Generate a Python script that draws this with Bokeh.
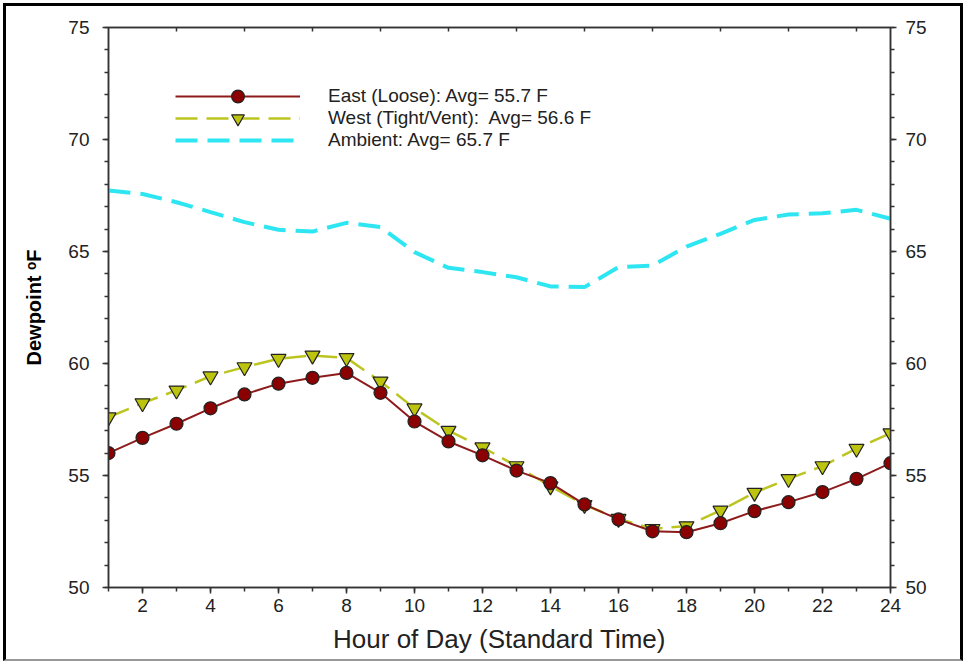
from bokeh.plotting import figure
from bokeh.models import (LinearAxis, SingleIntervalTicker, FixedTicker, Legend, LegendItem,
                          Range1d, Column)
from bokeh.embed import file_html
from bokeh.resources import INLINE

hours = list(range(1, 25))
east = [56.0, 56.68, 57.31, 58.0, 58.62, 59.1, 59.36, 59.58, 58.69, 57.41, 56.52, 55.9,
        55.22, 54.66, 53.71, 53.04, 52.51, 52.47, 52.87, 53.41, 53.81, 54.26, 54.85, 55.55]
west = [57.6, 58.23, 58.8, 59.43, 59.84, 60.21, 60.36, 60.25, 59.2, 58.0, 57.0, 56.26,
        55.42, 54.52, 53.69, 53.07, 52.62, 52.74, 53.44, 54.23, 54.85, 55.42, 56.2, 56.89]
ambient = [67.72, 67.57, 67.2, 66.76, 66.31, 65.97, 65.89, 66.28, 66.09, 64.97, 64.27, 64.08,
           63.85, 63.44, 63.41, 64.3, 64.37, 65.22, 65.79, 66.41, 66.65, 66.71, 66.86, 66.46]
labels = ["East (Loose): Avg= 55.7 F", "West (Tight/Vent):  Avg= 56.6 F", "Ambient: Avg= 65.7 F"]
top_ticks = [3, 5, 7, 9, 11, 13, 15, 17, 19, 21, 23]

FONT = "Liberation Sans"
TXT = "#222222"

p = figure(width=954, height=653, output_backend="svg", toolbar_location=None,
           x_range=Range1d(1, 24), y_range=Range1d(50, 75),
           min_border_left=102, min_border_right=70, min_border_top=21, min_border_bottom=72,
           x_axis_location=None, y_axis_location=None)
p.grid.visible = False
p.outline_line_color = "#333333"
p.outline_line_width = 1.5
p.background_fill_color = "white"
p.border_fill_color = "white"

def style_axis(ax):
    ax.axis_line_color = "#333333"
    ax.axis_line_width = 1.5
    ax.major_tick_line_color = "#333333"
    ax.minor_tick_line_color = "#333333"
    ax.major_tick_line_width = 1.5
    ax.minor_tick_line_width = 1.5
    ax.major_label_text_font = FONT
    ax.major_label_text_font_size = "19px"
    ax.major_label_text_color = TXT
    ax.axis_label_text_font = FONT
    ax.axis_label_text_color = TXT
    ax.axis_label_text_font_style = "normal"

bottom = LinearAxis(ticker=SingleIntervalTicker(interval=2, num_minor_ticks=2),
                    axis_label="Hour of Day (Standard Time)")
style_axis(bottom)
bottom.major_tick_out = 6
bottom.major_tick_in = 0
bottom.minor_tick_out = 4
bottom.minor_tick_in = 0
bottom.major_label_standoff = 5
bottom.axis_label_text_font_size = "26px"
bottom.axis_label_standoff = 9
p.add_layout(bottom, "below")

left = LinearAxis(ticker=SingleIntervalTicker(interval=5, num_minor_ticks=5),
                  axis_label="Dewpoint \u1d52F")
style_axis(left)
left.major_tick_out = 6
left.major_tick_in = 0
left.minor_tick_out = 4
left.minor_tick_in = 0
left.major_label_standoff = 13
left.axis_label_text_font_size = "20px"
left.axis_label_text_font_style = "bold"
left.axis_label_text_color = "black"
left.axis_label_standoff = 20
p.add_layout(left, "left")

right = LinearAxis(ticker=SingleIntervalTicker(interval=5, num_minor_ticks=5))
style_axis(right)
right.major_tick_out = 6
right.major_tick_in = 0
right.minor_tick_out = 4
right.minor_tick_in = 0
right.major_label_standoff = 9
p.add_layout(right, "right")

top = LinearAxis(ticker=FixedTicker(ticks=top_ticks, minor_ticks=[]))
style_axis(top)
top.major_tick_out = 0
top.major_tick_in = 4
top.major_label_overrides = {t: "" for t in top_ticks}
top.major_label_standoff = 0
p.add_layout(top, "above")

amb_line = p.line(hours, ambient, line_color="#2EE6F2", line_width=4, line_dash="22 10")
west_line = p.line(hours, west, line_color="#BCC520", line_width=2.5, line_dash="22 9")
west_pts = p.scatter(hours, west, marker="inverted_triangle", size=15,
                     fill_color="#BDC40E", line_color="#222222", line_width=1.2)
east_line = p.line(hours, east, line_color="#8E1B1B", line_width=2)
east_pts = p.scatter(hours, east, marker="circle", size=13,
                     fill_color="#8B0000", line_color="#222222", line_width=1.2)

entries = [
    (labels[0], [east_line, east_pts], 475),
    (labels[1], [west_line, west_pts], 453),
    (labels[2], [amb_line], 431),
]
for lab, rends, ypos in entries:
    lg = Legend(items=[LegendItem(label=lab, renderers=rends)], location=(67, ypos))
    lg.glyph_width = 125
    lg.glyph_height = 32
    lg.label_height = 20
    lg.spacing = 0
    lg.padding = 0
    lg.margin = 0
    lg.label_standoff = 28
    lg.border_line_color = None
    lg.background_fill_alpha = 0
    lg.label_text_font = FONT
    lg.label_text_font_size = "19px"
    lg.label_text_color = TXT
    p.add_layout(lg, "center")

layout = Column(children=[p], styles={"margin": "3px", "border": "3px solid black",
                                      "border-bottom": "2px solid #999999"})

open("out.html", "w").write(file_html(layout, INLINE))
